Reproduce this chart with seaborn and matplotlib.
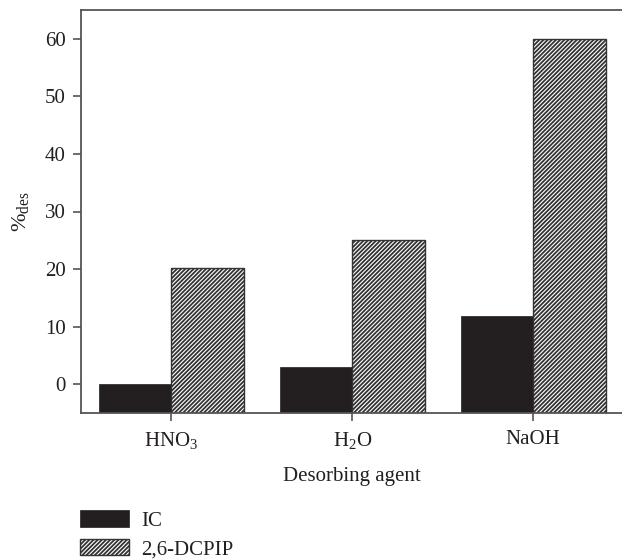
import matplotlib
matplotlib.use("Agg")
import matplotlib.pyplot as plt
import seaborn as sns
import pandas as pd

# Desorption percentages per desorbing agent
agents = ["HNO$_\\mathregular{3}$", "H$_\\mathregular{2}$O", "NaOH"]
series = ["IC", "2,6-DCPIP"]
ic_values = [0.1, 3.0, 11.8]
dcpip_values = [20.2, 25.0, 60.0]
y_ticks = [0, 10, 20, 30, 40, 50, 60]

FLOOR = -5
TOP = 65

sns.set_theme(style="white")
plt.rcParams["font.family"] = ["Liberation Serif", "DejaVu Serif"]
plt.rcParams["mathtext.fontset"] = "custom"
plt.rcParams["mathtext.rm"] = "Liberation Serif"
plt.rcParams["mathtext.it"] = "Liberation Serif:italic"
plt.rcParams["hatch.linewidth"] = 1.3
plt.rcParams["hatch.color"] = "#333333"

df = pd.DataFrame({
    "agent": agents * 2,
    "series": [series[0]] * 3 + [series[1]] * 3,
    "pct": ic_values + dcpip_values,
})
# bars rise from the bottom of the axis
df["height"] = df["pct"] - FLOOR

fig = plt.figure(figsize=(6.22, 5.6), dpi=100)
ax = fig.add_axes([80.7 / 622, 1 - 413 / 560, (623.7 - 80.7) / 622, 403 / 560])

sns.barplot(
    data=df, x="agent", y="height", hue="series", order=agents, hue_order=series,
    palette=["#231f20", "white"], width=0.8, bottom=FLOOR, legend=False,
    edgecolor="#333333", linewidth=1.0, ax=ax, saturation=1,
)
for p in ax.containers[0].patches:
    p.set_edgecolor("#231f20")
    p.set_linewidth(0.5)
for p in ax.containers[1].patches:
    p.set_hatch("////////")

ax.set_xlim(-0.5, 2.5)
ax.set_ylim(FLOOR, TOP)
ax.set_yticks(y_ticks)
ax.set_yticklabels([str(t) for t in y_ticks])

for side in ["left", "bottom", "top", "right"]:
    ax.spines[side].set_color("#555555")
    ax.spines[side].set_linewidth(1.3)

ax.tick_params(axis="both", which="both", direction="out", length=6, width=1.2,
               color="#555555", labelsize=15, labelcolor="#231f20")
ax.tick_params(axis="y", pad=5, left=True)
ax.tick_params(axis="x", pad=6, bottom=True)

ax.set_xlabel("Desorbing agent", fontsize=15, color="#231f20", labelpad=12)
ax.set_ylabel("%$_\\mathregular{des}$", fontsize=16, color="#231f20", labelpad=10)

handles = [ax.containers[0].patches[0], ax.containers[1].patches[0]]
fig.legend(handles, series, loc="upper left", bbox_to_anchor=(80 / 622, 1 - 510 / 560),
           frameon=False, fontsize=15, handlelength=2.35, handleheight=0.85,
           labelspacing=0.4, handletextpad=0.6, borderpad=0, borderaxespad=0,
           labelcolor="#231f20")

fig.savefig("out.png", dpi=100)
